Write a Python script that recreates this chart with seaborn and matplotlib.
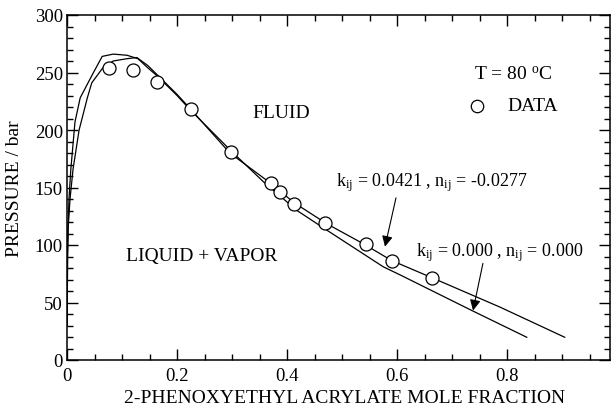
import matplotlib
matplotlib.use("Agg")
import matplotlib.pyplot as plt
import seaborn as sns
import pandas as pd
import numpy as np
from matplotlib.ticker import MultipleLocator

# ---- data ----
data_x = [0.076, 0.120, 0.164, 0.225, 0.298, 0.371, 0.387, 0.413, 0.469, 0.544, 0.591, 0.664]
data_p = [254, 252, 242, 218, 181, 154, 146, 136, 119, 101, 86, 71]

# k_ij = 0.0421, n_ij = -0.0277 (fits data)
fit_x = [0.0003, 0.001, 0.002, 0.0055, 0.011, 0.022, 0.037, 0.045, 0.065, 0.084, 0.109, 0.127,
         0.147, 0.164, 0.200, 0.225, 0.296, 0.375, 0.412, 0.472, 0.539, 0.590, 0.666, 0.787, 0.905]
fit_p = [30, 90, 114, 140, 166, 200, 228, 241, 254, 260, 262, 263,
         256, 248, 231, 218, 180, 152, 137, 118.5, 101, 86.5, 71, 46, 19.7]

# k_ij = 0.000, n_ij = 0.000
zero_x = [0.0003, 0.001, 0.002, 0.0036, 0.007, 0.0145, 0.024, 0.047, 0.064, 0.084, 0.109, 0.129,
          0.147, 0.164, 0.200, 0.225, 0.300, 0.357, 0.418, 0.472, 0.575, 0.6055, 0.736, 0.836]
zero_p = [30, 90, 114, 140, 166, 207, 228, 249, 264, 266, 265, 262,
          254, 247, 230, 217, 181, 155, 130, 113, 81, 74, 43, 19.7]

x_ticks = [0, 0.2, 0.4, 0.6, 0.8]
x_ticklabels = ["0", "0.2", "0.4", "0.6", "0.8"]
y_ticks = [0, 50, 100, 150, 200, 250, 300]

sns.set_theme(style="ticks")
plt.rcParams["font.family"] = ["Liberation Serif", "DejaVu Serif"]
plt.rcParams["mathtext.fontset"] = "custom"
plt.rcParams["mathtext.rm"] = "Liberation Serif"
plt.rcParams["mathtext.it"] = "Liberation Serif"

W, H = 614, 410
fig = plt.figure(figsize=(W / 100, H / 100), dpi=100)
ax = fig.add_axes([67 / W, (H - 361) / H, (610 - 67) / W, (361 - 16) / H])

df_fit = pd.DataFrame({"x": fit_x, "p": fit_p})
df_zero = pd.DataFrame({"x": zero_x, "p": zero_p})
df_data = pd.DataFrame({"x": data_x, "p": data_p})

sns.lineplot(data=df_fit, x="x", y="p", sort=False, color="black", lw=0.9, ax=ax)
sns.lineplot(data=df_zero, x="x", y="p", sort=False, color="black", lw=0.9, ax=ax)
sns.scatterplot(data=df_data, x="x", y="p", marker="o", s=88, facecolor="white",
                edgecolor="black", linewidth=0.9, ax=ax, zorder=5)

ax.set_xlim(0, 0.987)
ax.set_ylim(0, 300)
ax.set_xticks(x_ticks)
ax.set_xticklabels(x_ticklabels)
ax.set_yticks(y_ticks)
ax.xaxis.set_minor_locator(MultipleLocator(0.05))
ax.yaxis.set_minor_locator(MultipleLocator(10))
ax.tick_params(which="both", direction="in", top=True, right=True, width=1.0, colors="black",
               labelsize=13.5)
ax.tick_params(which="major", length=8)
ax.tick_params(which="minor", length=4)
ax.tick_params(axis="x", pad=5)
ax.tick_params(axis="y", pad=3)
for s in ax.spines.values():
    s.set_linewidth(1.1)
    s.set_color("black")

ax.set_xlabel("2-PHENOXYETHYL ACRYLATE MOLE FRACTION", fontsize=14, color="black")
ax.set_ylabel("PRESSURE / bar", fontsize=14, color="black")
ax.xaxis.set_label_coords((345 - 67) / 543, -0.085)
ax.yaxis.set_label_coords(-0.081, 0.5)

tk = dict(fontsize=14, color="black")
ax.text(0.39, 215, "FLUID", ha="center", va="center", **tk)
ax.text(0.244, 91, "LIQUID + VAPOR", ha="center", va="center", **tk)
ax.text(0.811, 249, r"T = 80 $^{\mathrm{o}}$C", ha="center", va="center", **tk)
ax.scatter([0.745], [221], s=80, facecolor="white", edgecolor="black", linewidth=0.9, zorder=5)
ax.text(0.80, 221, "DATA", ha="left", va="center", **tk)
tk2 = dict(fontsize=13, color="black")
ax.text(0.489, 155, r"k$_{\mathrm{ij}}$ = 0.0421 , n$_{\mathrm{ij}}$ = -0.0277", ha="left", va="center", **tk2)
ax.text(0.635, 94, r"k$_{\mathrm{ij}}$ = 0.000 , n$_{\mathrm{ij}}$ = 0.000", ha="left", va="center", **tk2)

ap = dict(arrowstyle="-|>", color="black", lw=0.8, mutation_scale=16, shrinkA=0, shrinkB=0)
ax.annotate("", xy=(0.578, 98.5), xytext=(0.598, 141), arrowprops=ap)
ax.annotate("", xy=(0.738, 43), xytext=(0.756, 84), arrowprops=ap)

fig.savefig("out.png", dpi=100)
